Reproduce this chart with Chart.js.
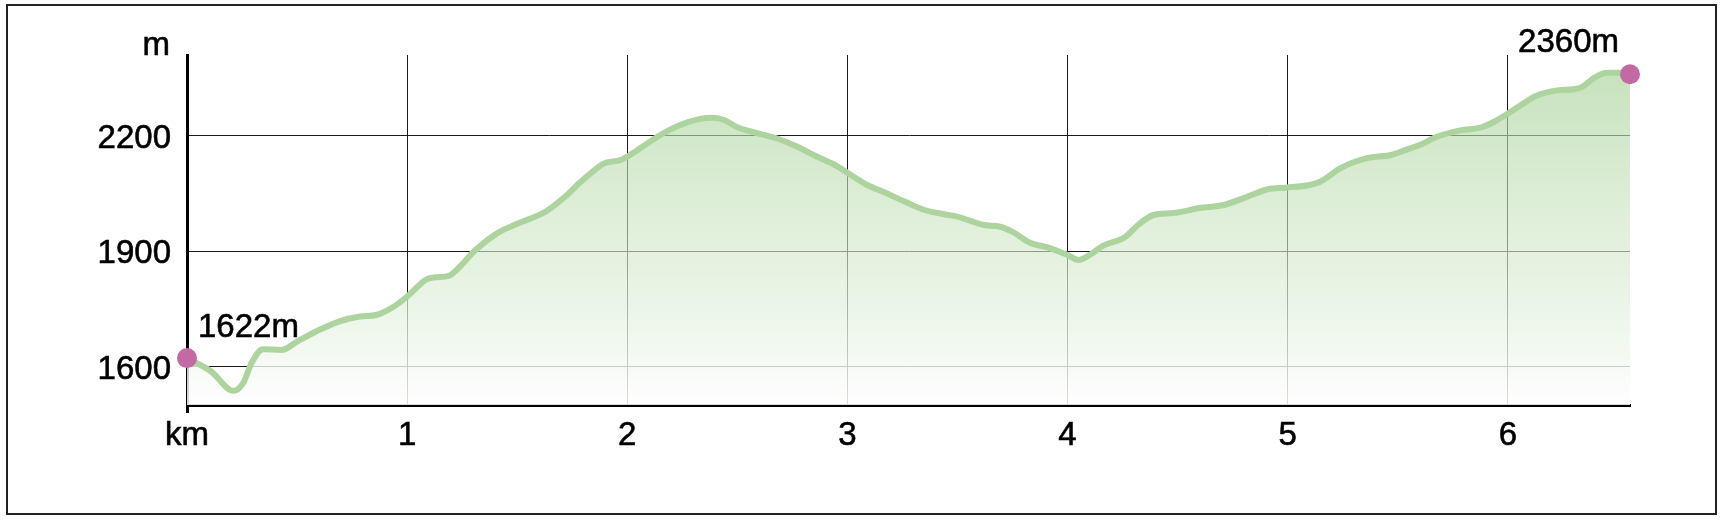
<!DOCTYPE html>
<html>
<head>
<meta charset="utf-8">
<script src="https://cdn.jsdelivr.net/npm/chart.js@4.4.1/dist/chart.umd.min.js"></script>
<style>
    html, body { margin: 0; padding: 0; background: #fff; }
    #wrap { position: relative; width: 1725px; height: 521px; }
    #frame {
        position: absolute; left: 6px; top: 4px; width: 1711px; height: 511px;
        border: 2px solid #222; box-sizing: border-box; pointer-events: none;
    }
</style>
</head>
<body>
<div id="wrap">
    <canvas id="profile" width="1725" height="521"></canvas>
    <div id="frame"></div>
</div>
<script>
// distance along the route (km) and elevation (m)
const distKm = [0, 0.11, 0.21, 0.255, 0.293, 0.345, 0.43, 0.5, 0.6, 0.69, 0.785, 0.86, 0.94, 1.0,
    1.09, 1.13, 1.19, 1.24, 1.31, 1.41, 1.5, 1.63, 1.71, 1.79, 1.85, 1.89, 1.97, 2.0, 2.06, 2.15,
    2.24, 2.33, 2.39, 2.44, 2.5, 2.59, 2.69, 2.77, 2.86, 2.95, 3.0, 3.09, 3.16, 3.26, 3.35, 3.44,
    3.5, 3.62, 3.69, 3.75, 3.83, 3.92, 4.0, 4.05, 4.1, 4.16, 4.26, 4.32, 4.39, 4.48, 4.6, 4.71,
    4.8, 4.91, 4.99, 5.1, 5.15, 5.24, 5.36, 5.47, 5.54, 5.6, 5.68, 5.785, 5.88, 5.94, 5.99, 6.06,
    6.13, 6.225, 6.3, 6.34, 6.39, 6.45, 6.51, 6.555];
const elevM = [1622, 1587, 1537, 1557, 1609, 1645, 1643, 1665, 1695, 1717, 1730, 1734, 1756, 1782,
    1827, 1832, 1836, 1860, 1903, 1947, 1971, 2003, 2038, 2081, 2110, 2127, 2137, 2146, 2168, 2202,
    2228, 2244, 2247, 2241, 2222, 2207, 2191, 2172, 2146, 2122, 2104, 2072, 2055, 2029, 2007, 1996,
    1990, 1968, 1964, 1950, 1922, 1908, 1890, 1877, 1890, 1914, 1936, 1968, 1994, 1999, 2012, 2020,
    2038, 2061, 2065, 2072, 2081, 2116, 2142, 2150, 2164, 2176, 2198, 2214, 2222, 2237, 2254, 2280,
    2304, 2318, 2321, 2328, 2350, 2364, 2364, 2360];

const xTicks = [0, 1, 2, 3, 4, 5, 6];
const yTicks = [1600, 1900, 2200];
const xUnit = "km";
const yUnit = "m";
const yMin = 1500;
const yMax = 2410;

const FONT = "'Liberation Sans', Arial, sans-serif";
const FONT_SIZE = 33;
const points = distKm.map((d, i) => ({ x: d, y: elevM[i] }));
const lastIdx = points.length - 1;

// start / end elevation labels and the "m" unit above the y axis
const labelsPlugin = {
    id: "labels",
    afterDatasetsDraw(chart) {
        const ctx = chart.ctx;
        const meta = chart.getDatasetMeta(0);
        const first = meta.data[0];
        const last = meta.data[lastIdx];
        ctx.save();
        ctx.font = FONT_SIZE + "px " + FONT;
        ctx.fillStyle = "#000";
        ctx.strokeStyle = "#000";
        ctx.lineWidth = 0.6;
        ctx.textBaseline = "alphabetic";
        ctx.textAlign = "left";
        let t = elevM[0] + "m";
        ctx.fillText(t, first.x + 11, first.y - 21);
        ctx.strokeText(t, first.x + 11, first.y - 21);
        ctx.textAlign = "right";
        t = elevM[lastIdx] + "m";
        ctx.fillText(t, last.x - 11, last.y - 22);
        ctx.strokeText(t, last.x - 11, last.y - 22);
        const yScale = chart.scales.y;
        ctx.fillText(yUnit, yScale.right - 17, chart.chartArea.top);
        ctx.strokeText(yUnit, yScale.right - 17, chart.chartArea.top);
        ctx.restore();
    }
};

new Chart(document.getElementById("profile"), {
    type: "line",
    data: {
        datasets: [{
            data: points,
            clip: 30,
            borderColor: "#add49e",
            borderWidth: 6,
            cubicInterpolationMode: "monotone",
            fill: "start",
            backgroundColor: (c) => {
                const area = c.chart.chartArea;
                if (!area) return "rgba(190,222,178,0.6)";
                const g = c.chart.ctx.createLinearGradient(0, area.top, 0, area.bottom);
                g.addColorStop(0, "rgba(168,210,152,0.68)");
                g.addColorStop(0.5, "rgba(205,230,196,0.6)");
                g.addColorStop(1, "rgba(255,255,255,0.85)");
                return g;
            },
            pointRadius: (c) => (c.dataIndex === 0 || c.dataIndex === lastIdx) ? 10 : 0,
            pointHoverRadius: (c) => (c.dataIndex === 0 || c.dataIndex === lastIdx) ? 10 : 0,
            pointBackgroundColor: "#c46aa2",
            pointBorderWidth: 0
        }]
    },
    options: {
        responsive: false,
        animation: false,
        layout: { padding: { left: 0, right: 95, top: 55, bottom: 0 } },
        plugins: {
            legend: { display: false },
            tooltip: { enabled: false }
        },
        scales: {
            x: {
                type: "linear",
                min: 0,
                max: distKm[lastIdx],
                afterBuildTicks: (s) => { s.ticks = xTicks.map(v => ({ value: v })); },
                afterFit: (s) => { s.height = 116; },
                border: { display: true, color: "#000", width: 3 },
                grid: {
                    color: "#1a1a1a",
                    lineWidth: 1,
                    tickLength: 8,
                    tickWidth: 3,
                    tickColor: (c) => c.index === 0 ? "#000" : "rgba(0,0,0,0)"
                },
                ticks: {
                    color: "#000",
                    font: { family: FONT, size: FONT_SIZE },
                    textStrokeColor: "#000",
                    textStrokeWidth: 0.6,
                    padding: 3,
                    maxRotation: 0,
                    callback: (v) => v === 0 ? xUnit : String(v)
                }
            },
            y: {
                min: yMin,
                max: yMax,
                afterBuildTicks: (s) => { s.ticks = yTicks.map(v => ({ value: v })); },
                afterFit: (s) => { s.width = 187; },
                border: { display: true, color: "#000", width: 3 },
                grid: { color: "#1a1a1a", lineWidth: 1, drawTicks: false },
                ticks: {
                    color: "#000",
                    font: { family: FONT, size: FONT_SIZE },
                    textStrokeColor: "#000",
                    textStrokeWidth: 0.6,
                    padding: 16,
                    labelOffset: 3,
                    callback: (v) => String(v)
                }
            }
        }
    },
    plugins: [labelsPlugin]
});
</script>
</body>
</html>
